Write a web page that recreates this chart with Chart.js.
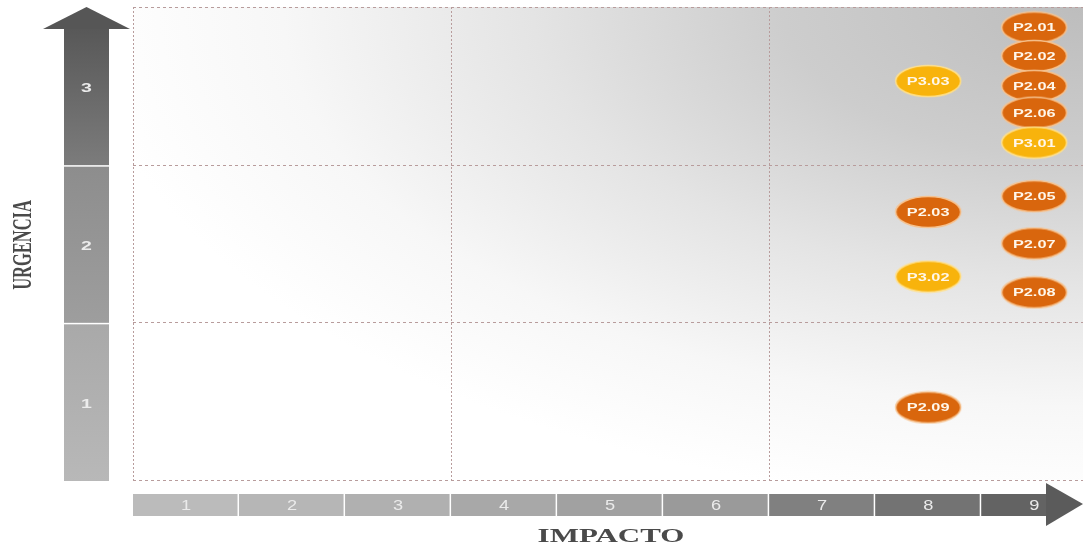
<!DOCTYPE html>
<html lang="es">
<head>
<meta charset="UTF-8">
<title>Matriz impacto / urgencia</title>
<style>
  body{margin:0;background:#fff;overflow:hidden}
  canvas{display:block}
</style>
</head>
<body>
<canvas id="matrix" width="1083" height="544"></canvas>
<script src="https://cdn.jsdelivr.net/npm/chart.js@4.4.1"></script>
<script>
/* ---------- data ---------- */
const codes    = ['P2.01','P2.02','P2.04','P2.06','P3.01','P3.03','P2.03','P3.02','P2.05','P2.07','P2.08','P2.09'];
const impacto  = [9, 9, 9, 9, 9, 8, 8, 8, 9, 9, 9, 8];
const urgencia = [3.37, 3.19, 3.0, 2.83, 2.64, 3.03, 2.2, 1.79, 2.3, 2.0, 1.69, 0.96];
const xTicks   = [1, 2, 3, 4, 5, 6, 7, 8, 9];
const yTicks   = [1, 2, 3];

/* ---------- styles ---------- */
const ORANGE = '#d9660d', ORANGE_EDGE = '#f6c28f';
const YELLOW = '#f8b30c', YELLOW_EDGE = '#ffe08c';
const X_CELLS = ['#bbbbbb','#b6b6b6','#b0b0b0','#a8a8a8','#a1a1a1','#9a9a9a','#808080','#737373','#636363'];
const Y_CELLS = {1:['#a9a9a9','#b8b8b8'], 2:['#8d8d8d','#9e9e9e'], 3:['#585858','#7c7c7c']};
const GRID = '#b89c9c';

function ellipseSprite(fill, edge){
  const c = document.createElement('canvas');
  c.width = 70; c.height = 34;
  const g = c.getContext('2d');
  g.beginPath();
  g.ellipse(35, 17, 32.5, 15.5, 0, 0, Math.PI*2);
  g.fillStyle = fill; g.fill();
  g.lineWidth = 1.5; g.strokeStyle = edge; g.stroke();
  return c;
}
const orangeDot = ellipseSprite(ORANGE, ORANGE_EDGE);
const yellowDot = ellipseSprite(YELLOW, YELLOW_EDGE);

function stretchText(ctx, txt, x, y, o){
  ctx.save();
  ctx.translate(x, y);
  if (o.rot) ctx.rotate(o.rot);
  ctx.scale(o.sx || 1, o.sy || 1);
  ctx.font = o.font;
  ctx.fillStyle = o.color;
  ctx.textAlign = 'center';
  ctx.textBaseline = o.base || 'middle';
  ctx.fillText(txt, 0, 0);
  ctx.restore();
}

/* ---------- background, grid, arrows ---------- */
const matrixPlugin = {
  id: 'matrix',
  beforeDatasetsDraw(chart){
    const {ctx, chartArea:{left, top, right, bottom}} = chart;
    const xs = chart.scales.x, ys = chart.scales.y;

    // soft radial shade toward the top-right corner
    ctx.save();
    ctx.translate(right, top);
    ctx.scale(1, 0.5);
    const grad = ctx.createRadialGradient(0, 0, 0, 0, 0, 1000);
    grad.addColorStop(0, '#bdbdbd');
    grad.addColorStop(0.3, '#cdcdcd');
    grad.addColorStop(0.55, '#e4e4e4');
    grad.addColorStop(0.8, '#f7f7f7');
    grad.addColorStop(1, '#ffffff');
    ctx.fillStyle = grad;
    ctx.fillRect(left - right, 0, right - left, (bottom - top) * 2);
    ctx.restore();

    // dotted grid
    ctx.save();
    ctx.strokeStyle = GRID;
    ctx.lineWidth = 1;
    ctx.setLineDash([2, 2]);
    [0.5, 3.5, 6.5].forEach(v => {
      const x = Math.round(xs.getPixelForValue(v)) + 0.5;
      ctx.beginPath(); ctx.moveTo(x, top); ctx.lineTo(x, bottom); ctx.stroke();
    });
    ctx.setLineDash([3, 3]);
    [0.5, 1.5, 2.5, 3.5].forEach(v => {
      const y = Math.round(ys.getPixelForValue(v)) + 0.5;
      ctx.beginPath(); ctx.moveTo(left, y); ctx.lineTo(xs.right, y); ctx.stroke();
    });
    ctx.restore();
  },
  afterDatasetsDraw(chart){
    const ctx = chart.ctx;
    chart.getDatasetMeta(0).data.forEach((pt, i) => {
      stretchText(ctx, codes[i], pt.x, pt.y + 4, {
        font: 'bold 11.5px "Liberation Sans", Arial, sans-serif',
        color: '#fff7ea', sx: 1.42, base: 'alphabetic'
      });
    });
  },
  afterDraw(chart){
    const {ctx, chartArea:{left, top, bottom}} = chart;
    const xs = chart.scales.x, ys = chart.scales.y;
    ctx.save();

    /* vertical arrow (URGENCIA) */
    const bx0 = 64, bx1 = 109, headBase = top + 22;
    ctx.fillStyle = '#565656';
    ctx.beginPath();
    ctx.moveTo((bx0 + bx1) / 2, top);
    ctx.lineTo(130, headBase);
    ctx.lineTo(43, headBase);
    ctx.closePath(); ctx.fill();
    yTicks.forEach(v => {
      let y0 = ys.getPixelForValue(v + 0.5) + 2;
      const y1 = Math.min(ys.getPixelForValue(v - 0.5) + 2, bottom + 1);
      if (v === 3) y0 = headBase;
      const g = ctx.createLinearGradient(0, y0, 0, y1);
      g.addColorStop(0, Y_CELLS[v][0]);
      g.addColorStop(1, Y_CELLS[v][1]);
      ctx.fillStyle = g;
      ctx.fillRect(bx0, y0, bx1 - bx0, y1 - y0 - (v === 1 ? 0 : 1.5));
      stretchText(ctx, String(v), (bx0 + bx1) / 2, ys.getPixelForValue(v) + 3, {
        font: 'bold 13px "Liberation Sans", Arial, sans-serif', color: '#ececec', sx: 1.5
      });
    });

    /* horizontal arrow (IMPACTO) */
    const by0 = 494, by1 = 516, tipX = 1083, baseX = 1047;
    xTicks.forEach((v, i) => {
      const x0 = Math.max(xs.getPixelForValue(v - 0.5), left - 1);
      const x1 = Math.min(xs.getPixelForValue(v + 0.5), baseX);
      ctx.fillStyle = X_CELLS[i];
      ctx.fillRect(x0, by0, x1 - x0 - (v === 9 ? 0 : 1.5), by1 - by0);
      stretchText(ctx, String(v), xs.getPixelForValue(v), (by0 + by1) / 2 + 1, {
        font: '14px "Liberation Sans", Arial, sans-serif', color: '#ebebeb', sx: 1.3
      });
    });
    ctx.fillStyle = '#5b5b5b';
    ctx.beginPath();
    ctx.moveTo(baseX - 1, 483);
    ctx.lineTo(tipX, 504);
    ctx.lineTo(baseX - 1, 526);
    ctx.closePath(); ctx.fill();

    /* axis titles */
    stretchText(ctx, 'IMPACTO', 611, 542, {
      font: 'bold 18px "Liberation Serif", "Times New Roman", serif',
      color: '#4a4a4a', sx: 1.72, base: 'alphabetic'
    });
    stretchText(ctx, 'URGENCIA', 24, 245, {
      font: 'bold 16px "Liberation Serif", "Times New Roman", serif',
      color: '#4a4a4a', rot: -Math.PI / 2, sx: 1.03, sy: 1.7
    });
    ctx.restore();
  }
};

/* ---------- build chart ---------- */
new Chart(document.getElementById('matrix'), {
  type: 'scatter',
  data: {
    datasets: [{
      label: 'Proyectos',
      data: codes.map((c, i) => ({x: impacto[i], y: urgencia[i]})),
      pointStyle: codes.map(c => c.startsWith('P3') ? yellowDot : orangeDot),
      pointRadius: 16,
      clip: false
    }]
  },
  options: {
    responsive: false,
    animation: false,
    layout: {autoPadding: false, padding: {left: 133, top: 7, right: 0, bottom: 64}},
    plugins: {legend: {display: false}, tooltip: {enabled: false}},
    events: [],
    scales: {
      x: {type: 'linear', min: 0.5, max: 9.46, display: false},
      y: {type: 'linear', min: 0.5, max: 3.5, display: false}
    }
  },
  plugins: [matrixPlugin]
});
</script>
</body>
</html>
